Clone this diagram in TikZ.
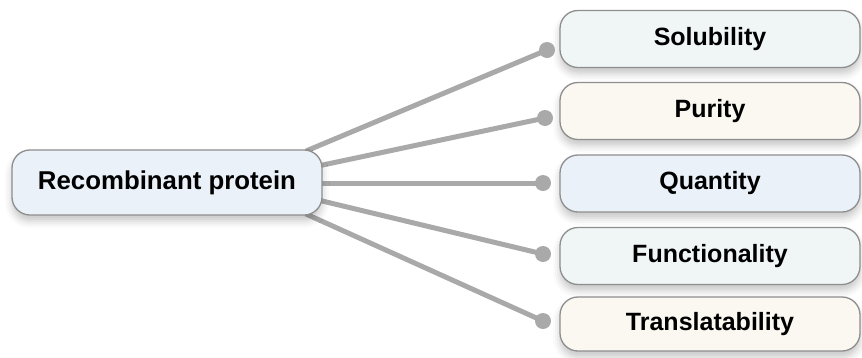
\documentclass[tikz,border=0pt]{standalone}
\usepackage{fontspec}
\setmainfont{Liberation Sans}
\usetikzlibrary{shadows.blur,backgrounds}
\definecolor{edgegray}{HTML}{A9A9A9}
\definecolor{bordergray}{HTML}{8E8E8E}
\definecolor{fillblue}{HTML}{EAF1F8}
\definecolor{fillmint}{HTML}{F0F6F6}
\definecolor{fillcream}{HTML}{FBF7F1}
\tikzset{
  box/.style={draw=bordergray, line width=1.3pt, rounded corners=18pt,
    inner sep=0pt, font=\bfseries\fontsize{25}{30}\selectfont, text=black,
    blur shadow={shadow xshift=0pt, shadow yshift=-6pt, shadow blur radius=7pt, shadow opacity=22}},
  leaf/.style={box, minimum width=300pt, minimum height=57pt},
  link/.style={draw=edgegray, line width=5pt},
  dot/.style={circle, fill=edgegray, inner sep=0pt, minimum size=16pt},
}
\begin{document}
\begin{tikzpicture}[x=1pt, y=-1pt]
\useasboundingbox (0,0) rectangle (862,357);
\node[box, fill=fillblue, minimum width=310pt, minimum height=65pt, font=\bfseries\fontsize{25.8}{30}\selectfont] (c) at (167,182.5) {Recombinant protein};
\node[leaf, fill=fillmint]  (l1) at (710,39)  {Solubility};
\node[leaf, fill=fillcream] (l2) at (710,111) {Purity};
\node[leaf, fill=fillblue]  (l3) at (710,183.5) {Quantity};
\node[leaf, fill=fillmint]  (l4) at (710,256) {Functionality};
\node[leaf, fill=fillcream, minimum height=54pt] (l5) at (710,324) {Translatability};
\node[dot] (d1) at (547,50)  {};
\node[dot] (d2) at (545,118) {};
\node[dot] (d3) at (543,183) {};
\node[dot] (d4) at (543,254) {};
\node[dot] (d5) at (543,321) {};
\coordinate (s1) at (306,151);
\coordinate (s2) at (318,166);
\coordinate (s3) at (320,183);
\coordinate (s4) at (318,200);
\coordinate (s5) at (306,214);
\begin{scope}[on background layer]
\draw[link] (s1) -- (d1.center);
\draw[link] (s2) -- (d2.center);
\draw[link] (s3) -- (d3.center);
\draw[link] (s4) -- (d4.center);
\draw[link] (s5) -- (d5.center);
\end{scope}
\end{tikzpicture}
\end{document}
